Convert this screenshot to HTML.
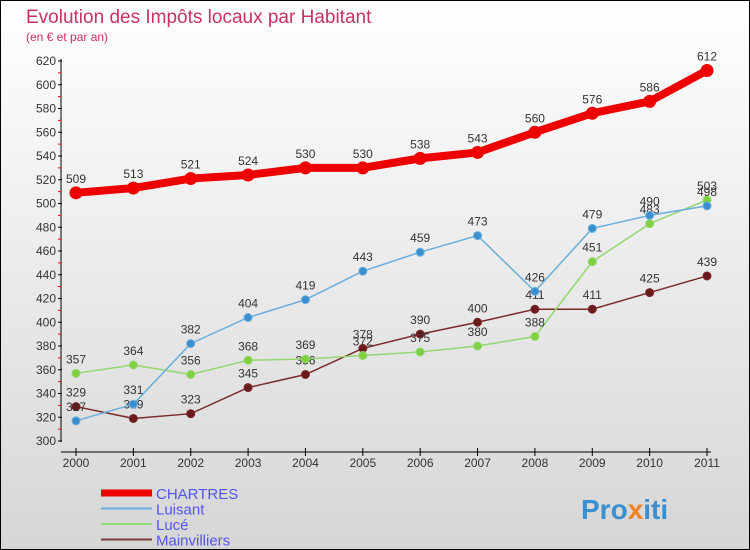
<!DOCTYPE html>
<html><head><meta charset="utf-8"><style>
body{margin:0}
#c{width:748px;height:548px;border:1px solid #000;background:linear-gradient(#fff,#d6d6d6);position:relative;overflow:hidden;font-family:"Liberation Sans",sans-serif}
</style></head><body>
<div id="c">
<svg id="s" width="748" height="548" xmlns="http://www.w3.org/2000/svg">
<text x="25" y="22" font-size="19" fill="#c8325f">Evolution des Impôts locaux par Habitant</text>
<text x="25" y="40" font-size="12" fill="#c8325f">(en € et par an)</text>
<g id="axes"></g><g id="series"></g><g id="legend"></g>
<text x="580" y="518" font-size="28" font-weight="bold" fill="#3a8fd0">Pro<tspan fill="#f08020">x</tspan>iti</text>
</svg>
</div>
<script>
const years=["2000","2001","2002","2003","2004","2005","2006","2007","2008","2009","2010","2011"];
const chartres=[509,513,521,524,530,530,538,543,560,576,586,612];
const luisant=[317,331,382,404,419,443,459,473,426,479,490,498];
const luce=[357,364,356,368,369,372,375,380,388,451,483,503];
const mainvilliers=[329,319,323,345,356,378,390,400,411,411,425,439];
const yTicks=[300,320,340,360,380,400,420,440,460,480,500,520,540,560,580,600,620];
const NS="http://www.w3.org/2000/svg";
const xs=i=>75+i*(631/11);
const ys=v=>440-(v-300)*(380/320);
function mk(t,a,p){const e=document.createElementNS(NS,t);for(const k in a)e.setAttribute(k,a[k]);p.appendChild(e);return e;}
const ax=document.getElementById('axes');
let l=mk('line',{x1:60,y1:58,x2:60,y2:441,stroke:'#000'},ax);


l=mk('line',{x1:60,y1:451,x2:710,y2:451,stroke:'#000'},ax);


yTicks.forEach((v,i)=>{const y=ys(v);
 mk('line',{x1:57,y1:y,x2:61,y2:y,stroke:'#000'},ax);
 if(i<yTicks.length-1)mk('line',{x1:57,y1:ys(v+10),x2:60,y2:ys(v+10),stroke:'#e00'},ax);
 const t=mk('text',{x:55,y:y+4,'font-size':12,'text-anchor':'end',fill:'#333'},ax);t.textContent=v;
 
 
});
years.forEach((yr,i)=>{const x=xs(i);
 mk('line',{x1:x,y1:447,x2:x,y2:455,stroke:'#000'},ax);
 const t=mk('text',{x:x,y:466,'font-size':12,'text-anchor':'middle',fill:'#333'},ax);t.textContent=yr;
 
 
});
const sg=document.getElementById('series');
function series(name,vals,col,dot,w,r){
 const g=mk('g',{},sg);
 
 
 const p=mk('polyline',{points:vals.map((v,i)=>xs(i)+','+ys(v)).join(' '),fill:'none',stroke:col,'stroke-width':w},g);
 
 
 vals.forEach((v,i)=>{
  const c=mk('circle',{cx:xs(i),cy:ys(v),r:r,fill:dot,stroke:col,'stroke-width':1},g);
  
  
  const t=mk('text',{x:xs(i),y:ys(v)-10,'font-size':12,'text-anchor':'middle',fill:'#333'},g);t.textContent=v;
  
  
 });
}
series('mainvilliers',mainvilliers,'#7a2a2a','#6a1a1a',1.5,4);
series('luce',luce,'#90d870','#80d040',1.5,4);
series('luisant',luisant,'#6aaedb','#3a8fd0',1.5,4);
series('chartres',chartres,'#ee0000','#ee0000',8,6);
const lg=document.getElementById('legend');
[['CHARTRES','#ee0000',7],['Luisant','#6aaedb',2],['Lucé','#90d870',2],['Mainvilliers','#7a3a3a',2]].forEach((d,i)=>{
 const y=492+i*15.5;
 const g=mk('g',{},lg);
 
 
 mk('line',{x1:100,y1:y,x2:151,y2:y,stroke:d[1],'stroke-width':d[2]},g);
 const t=mk('text',{x:155,y:y+6,'font-size':15,fill:'#5555ee'},g);t.textContent=d[0];
});
</script>
</body></html>
